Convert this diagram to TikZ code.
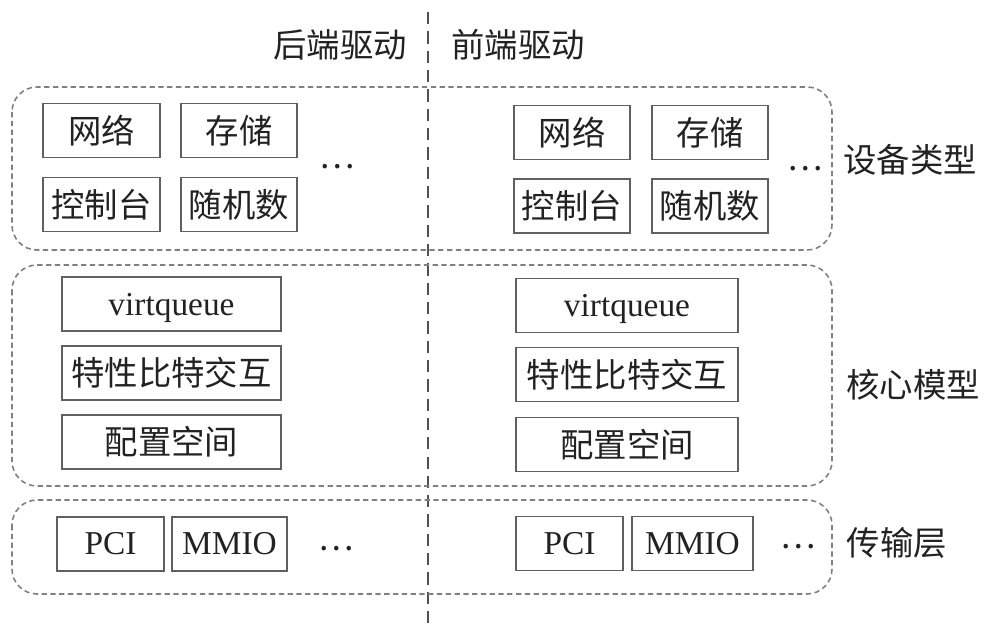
\documentclass[tikz,border=0pt]{standalone}
\usepackage{fontspec}
\setmainfont{Liberation Serif}
\newfontfamily\cjk{Noto Sans CJK SC}
\definecolor{boxgray}{HTML}{606060}
\definecolor{dashgray}{HTML}{808080}
\definecolor{linegray}{HTML}{505050}
\definecolor{ink}{HTML}{222222}

\begin{document}
\begin{tikzpicture}[x=0.02cm, y=-0.02cm, font=\fontsize{19}{22}\selectfont, text=ink,
  unit/.style={draw=boxgray, line width=0.9pt, inner sep=0pt, minimum height=1.08cm},
  latin/.style={text depth=0pt},
  group/.style={draw=dashgray, line width=0.9pt, dash pattern=on 3pt off 2pt, rounded corners=0.5cm}]
\useasboundingbox (0,0) rectangle (1002,639);
% middle line
\coordinate (top) at (428,12);
\coordinate (bot) at (428,625);
\draw[linegray, line width=1.4pt, dash pattern=on 7pt off 4pt] (top) -- (bot);
\node (back) at (340,45) {\cjk 后端驱动};
\node (front) at (518,45) {\cjk 前端驱动};
% groups
\draw[group] (12,87) rectangle (832,250);
\draw[group] (12,265) rectangle (832,486);
\draw[group] (12,500) rectangle (832,594);
% device types
\node[unit, minimum width=2.34cm] (net1) at (101.5,130.5) {\cjk 网络};
\node[unit, minimum width=2.32cm] (sto1) at (239,130.5) {\cjk 存储};
\node[unit, minimum width=2.34cm] (con1) at (101.5,204.5) {\cjk 控制台};
\node[unit, minimum width=2.32cm] (rnd1) at (239,204.5) {\cjk 随机数};
\node (dev1) at (337,167) {\cjk ⋯};
\node[unit, minimum width=2.32cm] (net2) at (572,132.5) {\cjk 网络};
\node[unit, minimum width=2.32cm] (sto2) at (710,132.5) {\cjk 存储};
\node[unit, minimum width=2.32cm] (con2) at (572,206) {\cjk 控制台};
\node[unit, minimum width=2.32cm] (rnd2) at (710,206) {\cjk 随机数};
\node (dev2) at (805,169) {\cjk ⋯};
\node (devlbl) at (910,160) {\cjk 设备类型};
% core model
\node[unit, latin, minimum width=4.38cm] (vq1) at (171.5,304) {virtqueue};
\node[unit, minimum width=4.38cm] (fb1) at (171.5,373) {\cjk 特性比特交互};
\node[unit, minimum width=4.38cm] (cs1) at (171.5,442) {\cjk 配置空间};
\node[unit, latin, minimum width=4.44cm] (vq2) at (627,305.5) {virtqueue};
\node[unit, minimum width=4.44cm] (fb2) at (627,374.5) {\cjk 特性比特交互};
\node[unit, minimum width=4.44cm] (cs2) at (627,444.5) {\cjk 配置空间};
\node (corelbl) at (913,385) {\cjk 核心模型};
% transport
\node[unit, minimum width=2.14cm] (pci1) at (110.5,544) {PCI};
\node[unit, minimum width=2.30cm] (mmio1) at (229.5,544) {MMIO};
\node (tr1) at (336,549) {\cjk ⋯};
\node[unit, minimum width=2.14cm] (pci2) at (569.5,543.5) {PCI};
\node[unit, minimum width=2.42cm] (mmio2) at (692.5,543.5) {MMIO};
\node (tr2) at (798,547) {\cjk ⋯};
\node (trlbl) at (897,543) {\cjk 传输层};
\end{tikzpicture}
\end{document}
